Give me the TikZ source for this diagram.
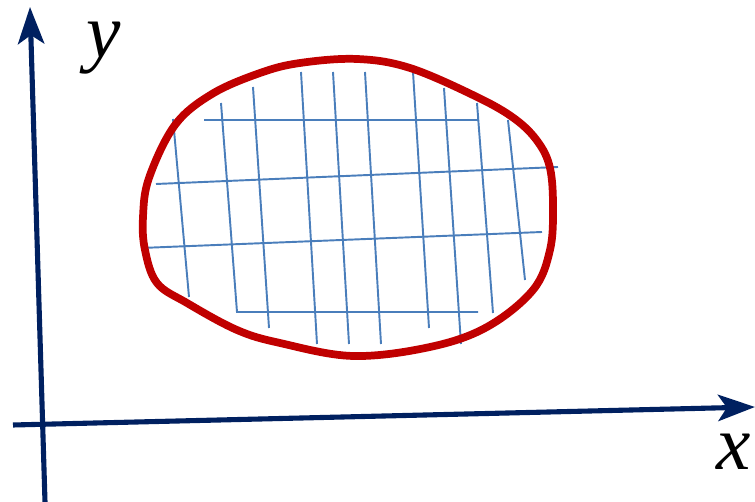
\documentclass[tikz,border=0pt]{standalone}
\usepackage{fontspec}
\setmainfont{Liberation Serif}
\usetikzlibrary{arrows.meta}
\definecolor{axisblue}{HTML}{002060}
\definecolor{blobred}{HTML}{C00000}
\definecolor{gridblue}{HTML}{4A7EBB}
\tikzset{
  axis/.style={draw=axisblue, line width=2.9pt, -{Stealth[length=21pt,width=15pt,inset=5pt]}},
  gridline/.style={draw=gridblue, line width=1.1pt},
  blob/.style={draw=blobred, line width=4.4pt, line join=round},
  axlabel/.style={inner sep=0pt, font=\fontsize{44}{44}\selectfont\itshape}
}
\begin{document}
\begin{tikzpicture}[x=0.02cm, y=-0.02cm]
\useasboundingbox (0,0) rectangle (755,502);
% axes
\coordinate (yb) at (45,502);
\coordinate (yt) at (30,7);
\coordinate (xl) at (13,425);
\coordinate (xr) at (755,407);
\draw[axis] (yb) -- (yt);
\draw[axis] (xl) -- (xr);
\node[axlabel] (ylab) at (104,48) {y};
\node[axlabel] (xlab) at (734,452) {x};
% grid: horizontal lines
\draw[gridline] (204,120) -- (478,120);
\draw[gridline] (156,184) -- (558,167);
\draw[gridline] (141,248) -- (542,232);
\draw[gridline] (221,103) -- (237,312) -- (478,312);
% grid: vertical lines
\draw[gridline] (173,119) -- (189,297);
\draw[gridline] (253,87) -- (269,328);
\draw[gridline] (301,72) -- (317,344);
\draw[gridline] (333,72) -- (349,344);
\draw[gridline] (365,72) -- (381,344);
\draw[gridline] (413,72) -- (429,328);
\draw[gridline] (444,88) -- (461,344);
\draw[gridline] (477,103) -- (493,313);
\draw[gridline] (508,120) -- (525,280);
% region boundary
\draw[blob] plot[smooth cycle, tension=0.6] coordinates {
 (357,59) (410,68) (477,97) (515,119) (538,142) (550,168) (553,207)
 (550,250) (533,290) (487,327) (430,347) (353,356) (280,343)
 (237,330) (187,303) (157,283) (145,250) (143,217) (149,178)
 (175,125) (212,94) (260,73) (300,63)};
\end{tikzpicture}
\end{document}
